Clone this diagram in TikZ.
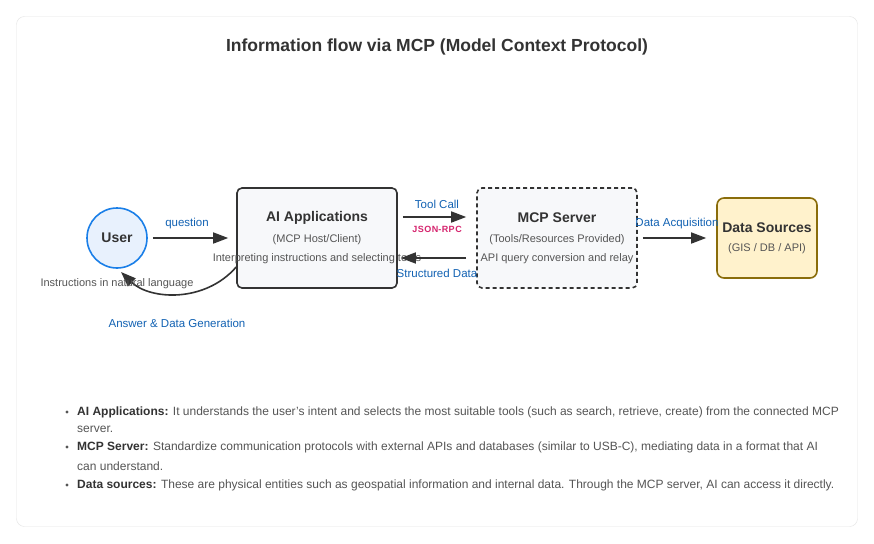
\documentclass[tikz,border=0pt]{standalone}
\usepackage{fontspec}
\setmainfont{Liberation Sans}
\usetikzlibrary{arrows.meta,positioning}
\definecolor{txtdark}{HTML}{333333}
\definecolor{txtgray}{HTML}{555555}
\definecolor{lblblue}{HTML}{1262B3}
\definecolor{jsonpink}{HTML}{D6246E}
\definecolor{userfill}{HTML}{E8F1FD}
\definecolor{userline}{HTML}{1A7FE8}
\definecolor{boxfill}{HTML}{F7F8FA}
\definecolor{dsfill}{HTML}{FFF2CC}
\definecolor{dsline}{HTML}{8A6D0B}
\definecolor{cardline}{HTML}{E3E3E3}
\tikzset{
  arr/.style={draw=txtdark, line width=1.6pt, -{Triangle[length=15pt,width=11pt]}},
  boxmain/.style={draw=txtdark, line width=1.6pt, fill=boxfill, rounded corners=5pt, minimum width=160pt, minimum height=100pt},
  bigtitle/.style={font=\bfseries\fontsize{14}{16}\selectfont, text=txtdark},
  subtxt/.style={font=\fontsize{11}{12}\selectfont, text=txtgray},
  lbl/.style={font=\fontsize{11.5}{13}\selectfont, text=lblblue},
  bul/.style={font=\fontsize{12}{14}\selectfont, text=txtgray, anchor=west, inner sep=0pt},
}
\begin{document}
\begin{tikzpicture}[x=1pt,y=-1pt]
\useasboundingbox (0,0) rectangle (874,543);
\fill[white] (0,0) rectangle (874,543);
\draw[cardline, fill=white, rounded corners=8pt] (16.5,16.5) rectangle (857.5,526.5);
\node[font=\bfseries\fontsize{17.5}{20}\selectfont, text=txtdark] (title) at (437,47) {Information flow via MCP (Model Context Protocol)};

% nodes
\node[circle, draw=userline, fill=userfill, line width=1.6pt, minimum size=60pt, inner sep=0pt, bigtitle] (user) at (117,238) {User};
\node[boxmain] (ai) at (317,238) {};
\node[boxmain, dashed, dash pattern=on 4pt off 3pt] (mcp) at (557,238) {};
\node[draw=dsline, line width=1.6pt, fill=dsfill, rounded corners=7pt, minimum width=100pt, minimum height=80pt] (ds) at (767,238) {};

\node[bigtitle] (aiT) at (317,218) {AI Applications};
\node[subtxt] (aiS) at (317,240) {(MCP Host/Client)};
\node[subtxt] (aiD) at (317,259) {Interpreting instructions and selecting tools};

\node[bigtitle] (mcpT) at (557,218) {MCP Server};
\node[subtxt] (mcpS) at (557,240) {(Tools/Resources Provided)};
\node[subtxt] (mcpD) at (557,259) {API query conversion and relay};

\node[bigtitle] (dsT) at (767,228) {Data Sources};
\node[subtxt] (dsS) at (767,249) {(GIS / DB / API)};

% connectors
\draw[arr] ([xshift=5pt]user.east) -- ([xshift=-8pt]ai.west);
\node[lbl] (lq) at (187,224) {question};

\draw[arr] ([xshift=5pt,yshift=21pt]ai.east) -- ([xshift=-10pt,yshift=21pt]mcp.west);
\node[lbl] (ltc) at (437,204) {Tool Call};
\node[font=\bfseries\fontsize{9}{10}\selectfont, text=jsonpink] (ljson) at (437,229) {J\kern0.5ptS\kern0.5ptO\kern0.5ptN-\kern0.5ptR\kern0.5ptP\kern0.5ptC};

\draw[arr] ([xshift=-10pt,yshift=-20pt]mcp.west) -- ([xshift=3pt,yshift=-20pt]ai.east);
\node[lbl] (lsd) at (437,273) {Structured Data};

\draw[arr] ([xshift=5pt]mcp.east) -- ([xshift=-10pt]ds.west);
\node[lbl] (lda) at (677,224) {Data Acquisition};

\coordinate (cs) at ([yshift=-29pt]ai.west);
\coordinate (ce) at (121,272);
\draw[arr] (cs) .. controls (205,303) and (150,300) .. (ce);
\node[subtxt] (lnat) at (117,284) {Instructions in natural language};
\node[lbl] (lans) at (177,323) {Answer \& Data Generation};

% bullets
\foreach \yy in {412,447,485} \fill[txtgray] (67,\yy) circle (1.6pt);
\node[bul] (b1) at (77,412) {\textcolor{txtdark}{\bfseries AI Applications:} It understands the user's intent and selects the most suitable tools (such as search, retrieve, create) from the connected MCP};
\node[bul] (b1b) at (77,429) {server.};
\node[bul] (b2) at (77,447) {\textcolor{txtdark}{\bfseries MCP Server:} Standardize communication protocols with external APIs and databases (similar to USB-C), mediating data in a format that AI};
\node[bul] (b2b) at (77,466) {can understand.};
\node[bul] (b3) at (77,485) {\textcolor{txtdark}{\bfseries Data sources:} These are physical entities such as geospatial information and internal data. Through the MCP server, AI can access it directly.};
\end{tikzpicture}
\end{document}
